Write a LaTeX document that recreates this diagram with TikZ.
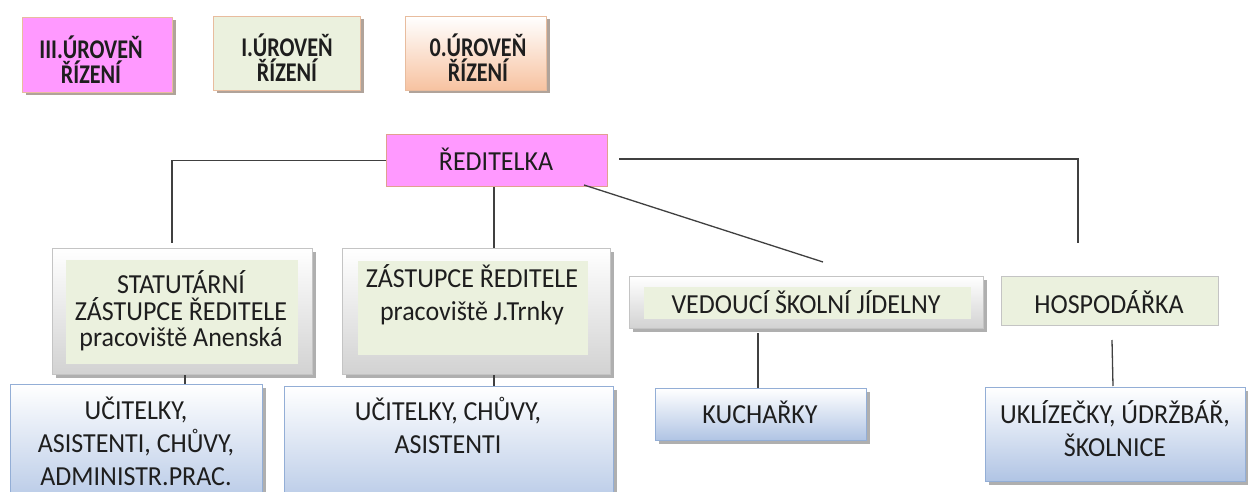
\documentclass[tikz,border=0pt]{standalone}
\usepackage{fontspec}
\setmainfont{Carlito}
\newfontfamily\condfont[FakeStretch=0.945]{Carlito}
\newfontfamily\legfont[FakeStretch=0.82]{Carlito}
\usetikzlibrary{shadows,calc}
\definecolor{linec}{HTML}{404040}
\definecolor{mag}{HTML}{FF99FF}
\definecolor{magb}{HTML}{E0A090}
\definecolor{legb}{HTML}{E8BC9E}
\definecolor{legsh}{HTML}{A89A90}
\definecolor{grn}{HTML}{EBF1DE}
\definecolor{grayb}{HTML}{C4C4C4}
\definecolor{grayf}{HTML}{D2D2D2}
\definecolor{bluef}{HTML}{B0C4E4}
\definecolor{blueb}{HTML}{93AED6}
\definecolor{peach}{HTML}{F7C2A0}
\definecolor{txt}{HTML}{1E1E1E}
\definecolor{shd}{HTML}{9C9C9C}
\tikzset{
  conn/.style={draw=linec, line width=1.3pt},
  box/.style={rectangle, anchor=north west, inner sep=0pt, line width=1pt},
  legsh/.style={drop shadow={shadow xshift=3pt, shadow yshift=-3pt, fill=legsh, opacity=0.9}},
  boxsh/.style={drop shadow={shadow xshift=3pt, shadow yshift=-3pt, fill=shd, opacity=0.8}},
  legtext/.style={text=txt, align=center, inner sep=0pt, font=\legfont\fontsize{27}{25}\selectfont\bfseries},
  txtn/.style={text=txt, align=center, inner sep=0pt, font=\condfont\fontsize{27.5}{33}\selectfont},
  graybox/.style={box, draw=grayb, top color=white, bottom color=grayf, boxsh},
  bluebox/.style={box, draw=blueb, top color=white, bottom color=bluef, boxsh},
  grnbox/.style={box, fill=grn},
}
\begin{document}
\begin{tikzpicture}[x=1pt,y=-1pt]
\useasboundingbox[fill=white] (0,0) rectangle (1248,492);
% legend
\node[box, fill=mag, draw=legb, legsh, minimum width=150, minimum height=75] (l3) at (22,17) {};
\node[legtext] (l3t) at (91,60) {III.ÚROVEŇ\\ŘÍZENÍ};
\node[box, fill=grn, draw=legb, legsh, minimum width=147, minimum height=74] (l1) at (213,16) {};
\node[legtext] (l1t) at (287,58) {I.ÚROVEŇ\\ŘÍZENÍ};
\node[box, top color=white, bottom color=peach, draw=legb, legsh, minimum width=141, minimum height=74] (l0) at (405,16) {};
\node[legtext] (l0t) at (478,58) {0.ÚROVEŇ\\ŘÍZENÍ};
% director
\node[box, fill=mag, draw=magb, minimum width=221, minimum height=52] (red) at (386,134) {};
\node[txtn] (redt) at (496,159) {ŘEDITELKA};
% level boxes
\node[graybox, minimum width=260, minimum height=126] (stat) at (52,248) {};
\node[grnbox, minimum width=232, minimum height=104] (statin) at (65,259) {};
\node[txtn, font=\condfont\fontsize{27.5}{26.5}\selectfont] (statt) at (181,311) {STATUTÁRNÍ\\ZÁSTUPCE ŘEDITELE\\pracoviště Anenská};
\node[graybox, minimum width=268, minimum height=126] (zast) at (342,248) {};
\node[grnbox, minimum width=230, minimum height=94] (zastin) at (357,260) {};
\node[txtn] (zastt) at (472,295) {ZÁSTUPCE ŘEDITELE\\pracoviště J.Trnky};
\node[graybox, minimum width=354, minimum height=52] (ved) at (629,276) {};
\node[grnbox, minimum width=327, minimum height=32] (vedin) at (643,286) {};
\node[txtn] (vedt) at (806,302) {VEDOUCÍ ŠKOLNÍ JÍDELNY};
\node[box, fill=grn, draw=grayb, minimum width=217, minimum height=49] (hosp) at (1001,276) {};
\node[txtn] (hospt) at (1109,302) {HOSPODÁŘKA};
% staff boxes
\node[bluebox, minimum width=252, minimum height=130] (uc1) at (10,384) {};
\node[txtn] (uc1t) at (136,441) {UČITELKY,\\ASISTENTI, CHŮVY,\\ADMINISTR.PRAC.};
\node[bluebox, minimum width=329, minimum height=130] (uc2) at (284,386) {};
\node[txtn] (uc2t) at (448,425) {UČITELKY, CHŮVY,\\ASISTENTI};
\node[bluebox, minimum width=211, minimum height=52] (kuch) at (655,388) {};
\node[txtn] (kucht) at (760,412) {KUCHAŘKY};
\node[bluebox, minimum width=260, minimum height=94] (ukl) at (985,387) {};
\node[txtn] (uklt) at (1115,429) {UKLÍZEČKY, ÚDRŽBÁŘ,\\ŠKOLNICE};
% connector end points
\coordinate (ld) at (172,243);
\coordinate (rs) at (619,159);
\coordinate (rc) at (1078,159);
\coordinate (rd) at (1078,243);
\coordinate (de) at (823,262);
\coordinate (hs) at (1112,340);
\coordinate (he) at (1113,386);
% connectors
\draw[conn] (red.west) -| (ld);
\draw[conn] (rs) -- (rc) -- (rd);
\draw[conn] (red.south -| 494,0) -- (494,248);
\draw[conn] ($(red.south east)+(-24,-2)$) -- (de);
\draw[conn] (stat.south -| 185,0) -- (uc1.north -| 185,0);
\draw[conn] (zast.south -| 494,0) -- (uc2.north -| 494,0);
\draw[conn] (758,333) -- (kuch.north -| 758,0);
\draw[conn] (hs) -- (he);
\end{tikzpicture}
\end{document}
